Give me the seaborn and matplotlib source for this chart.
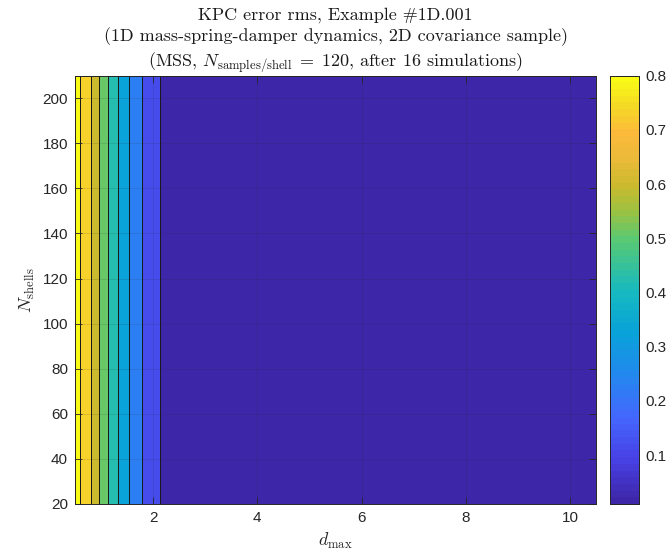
import matplotlib as mpl
import matplotlib.pyplot as plt
import numpy as np
import pandas as pd
import seaborn as sns
from matplotlib.colors import LinearSegmentedColormap

# cell edges (d_max) and one band in N_shells
d_max_edges = [0.5, 0.59, 0.80, 0.96, 1.14, 1.32, 1.53, 1.78, 2.13, 10.5]
n_shells_edges = [20, 210]
# error rms per d_max cell (same for every N_shells)
err_rms = [0.80, 0.73, 0.60, 0.51, 0.42, 0.33, 0.23, 0.11, 0.01]
n_shells_mid = [115] * len(err_rms)

x_ticks = [2, 4, 6, 8, 10]
y_ticks = [20, 40, 60, 80, 100, 120, 140, 160, 180, 200]
cb_ticks = [0.1, 0.2, 0.3, 0.4, 0.5, 0.6, 0.7, 0.8]

# parula-like colormap
parula = LinearSegmentedColormap.from_list("parula", [
    (0.0, (0.2422, 0.1504, 0.6603)),
    (0.1, (0.2786, 0.2559, 0.9004)),
    (0.2, (0.2650, 0.4050, 0.9936)),
    (0.3, (0.1320, 0.5370, 0.9340)),
    (0.4, (0.0330, 0.6370, 0.8500)),
    (0.5, (0.0920, 0.7310, 0.7470)),
    (0.62, (0.3500, 0.7900, 0.4500)),
    (0.684, (0.6000, 0.7600, 0.2600)),
    (0.747, (0.8000, 0.7300, 0.1800)),
    (0.81, (0.9200, 0.7300, 0.2200)),
    (0.873, (0.9900, 0.7300, 0.2300)),
    (0.94, (0.9600, 0.8600, 0.1400)),
    (1.0, (0.9769, 0.9839, 0.0805)),
], N=64)

sns.set_theme(style="ticks")
plt.rcParams['font.family'] = ['Liberation Sans', 'DejaVu Sans']
plt.rcParams['mathtext.fontset'] = 'cm'
dark = '#262626'
plt.rcParams['axes.edgecolor'] = dark
plt.rcParams['xtick.color'] = dark
plt.rcParams['ytick.color'] = dark

df = pd.DataFrame({
    'd_max': [(a + b) / 2 for a, b in zip(d_max_edges[:-1], d_max_edges[1:])],
    'N_shells': n_shells_mid,
    'err': err_rms,
})

fig = plt.figure(figsize=(6.68, 5.59), dpi=100)
ax = fig.add_axes([0.1123, 0.0984, 0.7799, 0.7662])
cax = fig.add_axes([0.913, 0.0984, 0.0434, 0.7662])

ax.grid(True, color=dark, alpha=0.15, linewidth=0.6)
sns.histplot(data=df, x='d_max', y='N_shells', weights='err',
             bins=[d_max_edges, n_shells_edges], cmap=parula,
             vmin=min(err_rms), vmax=max(err_rms),
             edgecolor='k', linewidth=0.6,
             cbar=True, cbar_ax=cax, ax=ax)
ax.set_axisbelow(False)

ax.set_xlim(0.5, 10.5)
ax.set_ylim(20, 210)
ax.set_xticks(x_ticks)
ax.set_yticks(y_ticks)
ax.tick_params(direction='in', top=True, right=True, length=5, width=0.6,
               labelsize=11, pad=5)
for s in ax.spines.values():
    s.set_visible(True)
    s.set_linewidth(0.7)

ax.set_xlabel(r'$d_{\max}$', fontsize=13, labelpad=4)
ax.set_ylabel(r'$N_{\mathrm{shells}}$', fontsize=13, labelpad=4)
ax.set_title('KPC error rms, Example #1D.001\n'
             '(1D mass-spring-damper dynamics, 2D covariance sample)\n'
             r'(MSS, $N_{\mathrm{samples/shell}}\;=\;120$, after 16 simulations)',
             family=['cmr10', 'DejaVu Serif'], fontsize=13, linespacing=1.3,
             pad=7, color='k')

cax.set_yticks(cb_ticks)
cax.tick_params(direction='in', length=4, width=0.6, labelsize=11, right=True,
                left=False, pad=5)
for s in cax.spines.values():
    s.set_visible(True)
    s.set_linewidth(0.7)
    s.set_color(dark)

fig.savefig('out.png', dpi=100)
